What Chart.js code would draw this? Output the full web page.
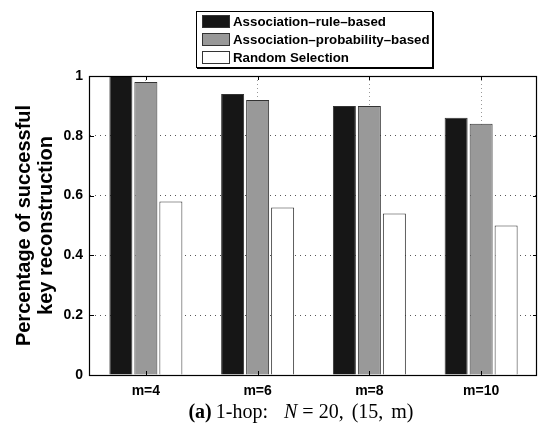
<!DOCTYPE html>
<html>
<head>
<meta charset="utf-8">
<script src="https://cdn.jsdelivr.net/npm/chart.js@4"></script>
<style>
  body { margin: 0; background: #fff; }
  #wrap { position: relative; width: 538px; height: 423px; }
  #legend {
    position: absolute; left: 196px; top: 11px; width: 235px; height: 55px;
    border: 1px solid #000; box-shadow: 1px 1px 0 #000; background: #fff;
    font: bold 13.3px "Liberation Sans", Arial, sans-serif; color: #000;
  }
  .item { position: absolute; left: 5px; height: 14px; line-height: 14px; white-space: nowrap; }
  .sw { display: inline-block; width: 28px; height: 13px; border: 1px solid #333; vertical-align: top; margin-right: 3px; box-sizing: border-box; }
  #caption {
    position: absolute; left: 0; width: 602px; top: 400px; text-align: center;
    font: 20px "Liberation Serif", "DejaVu Serif", serif; color: #000; white-space: nowrap;
    word-spacing: 3px;
  }
  #caption .m { margin: 0 5px; }
</style>
</head>
<body>
<div id="wrap">
  <canvas id="chart" width="538" height="423"></canvas>
  <div id="legend"></div>
  <div id="caption"><b>(a)</b>&thinsp;1-hop:&nbsp; <i>N</i><span class="m">=</span>20, (15, m)</div>
</div>
<script>
const categories = ['m=4', 'm=6', 'm=8', 'm=10'];
const seriesNames = ['Association\u2013rule\u2013based', 'Association\u2013probability\u2013based', 'Random Selection'];
const ruleBased = [1.0, 0.94, 0.90, 0.86];
const probBased = [0.98, 0.92, 0.90, 0.84];
const randomSel = [0.58, 0.56, 0.54, 0.50];
const fills = ['#161616', '#999999', '#ffffff'];

// html legend, boxed like the matlab one
const legend = document.getElementById('legend');
seriesNames.forEach((name, i) => {
    const row = document.createElement('div');
    row.className = 'item';
    row.style.top = (3 + i * 18) + 'px';
    row.innerHTML = '<span class="sw" style="background:' + fills[i] + '"></span>' + name;
    legend.appendChild(row);
});

// frame + inward ticks
const boxPlugin = {
    id: 'box',
    afterDatasetsDraw(chart) {
        const ctx = chart.ctx;
        const a = chart.chartArea;
        const x = chart.scales.x, y = chart.scales.y;
        ctx.save();
        ctx.strokeStyle = '#000';
        ctx.lineWidth = 1;
        ctx.beginPath();
        [0.2, 0.4, 0.6, 0.8].forEach(v => {
            const py = Math.round(y.getPixelForValue(v)) + 0.5;
            ctx.moveTo(a.left, py); ctx.lineTo(a.left + 4, py);
            ctx.moveTo(a.right, py); ctx.lineTo(a.right - 4, py);
        });
        categories.forEach((c, i) => {
            const px = Math.round(x.getPixelForValue(i)) + 0.5;
            ctx.moveTo(px, a.top); ctx.lineTo(px, a.top + 4);
            ctx.moveTo(px, a.bottom); ctx.lineTo(px, a.bottom - 4);
        });
        ctx.stroke();
        ctx.lineWidth = 1.2;
        ctx.strokeRect(Math.round(a.left) - 0.5, Math.round(a.top) + 0.5,
            Math.round(a.right - a.left), Math.round(a.bottom - a.top));
        ctx.restore();
    }
};

const tickFont = { family: '"Liberation Sans", Arial, sans-serif', size: 14, weight: 'bold' };

new Chart(document.getElementById('chart'), {
    type: 'bar',
    data: {
        labels: categories,
        datasets: [ruleBased, probBased, randomSel].map((d, i) => ({
            label: seriesNames[i],
            data: d,
            backgroundColor: fills[i],
            borderColor: '#333',
            borderWidth: 1,
            categoryPercentage: 0.671,
            barPercentage: 0.92
        }))
    },
    options: {
        responsive: false,
        animation: false,
        devicePixelRatio: 1,
        layout: { padding: { top: 76, right: 1, left: 0, bottom: 0 } },
        plugins: {
            legend: { display: false },
            tooltip: { enabled: false }
        },
        scales: {
            x: {
                grid: {
                    offset: false,
                    drawTicks: false,
                    color: '#999',
                    lineWidth: 1
                },
                border: { display: false, dash: [1, 3] },
                ticks: { color: '#000', font: tickFont, padding: 8 },
                afterFit(s) { s.height = 48; }
            },
            y: {
                min: 0,
                max: 1,
                grid: {
                    drawTicks: false,
                    color: c => (c.tick && (c.tick.value === 0 || c.tick.value === 1)) ? 'rgba(0,0,0,0)' : '#555',
                    lineWidth: 1
                },
                border: { display: false, dash: [1, 4] },
                ticks: {
                    stepSize: 0.2, color: '#000', font: tickFont, padding: 7,
                    callback: v => String(+v.toFixed(1))
                },
                title: {
                    display: true,
                    text: ['Percentage of successful', 'key reconstruction'],
                    color: '#000',
                    font: { family: '"Liberation Sans", Arial, sans-serif', size: 20, weight: 'bold', lineHeight: 1.1 },
                    padding: { top: 13, bottom: 0 }
                },
                afterFit(s) { s.width = 90; }
            }
        }
    },
    plugins: [boxPlugin]
});
</script>
</body>
</html>
